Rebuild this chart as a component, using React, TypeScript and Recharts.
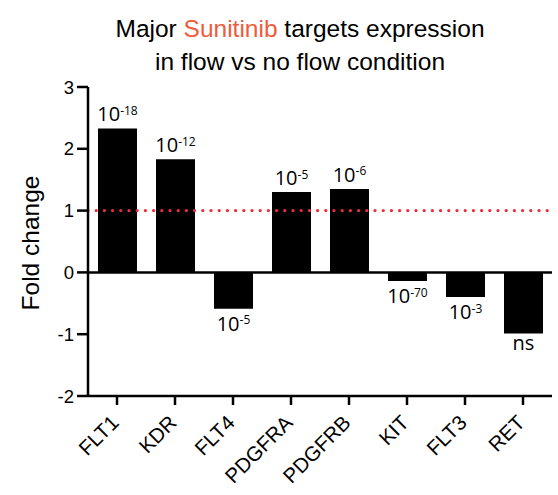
import { BarChart, Bar, XAxis, YAxis, ReferenceLine, LabelList } from "recharts";

const genes = ["FLT1", "KDR", "FLT4", "PDGFRA", "PDGFRB", "KIT", "FLT3", "RET"];
const foldChange = [2.33, 1.83, -0.59, 1.3, 1.35, -0.14, -0.4, -0.99];
// exponent of the p-value (10^x), "ns" = not significant
const pValues = ["-18", "-12", "-5", "-5", "-6", "-70", "-3", "ns"];
const yTicks = [-2, -1, 0, 1, 2, 3];

const data = genes.map((gene, i) => ({ gene, fc: foldChange[i], p: pValues[i] }));

const axisFont = "'Liberation Sans', Arial, sans-serif";
const labelFont = "'Open Sans', 'Liberation Sans', sans-serif";

function PLabel(props: any) {
  const { x, y, width, height, index } = props;
  const v = foldChange[index];
  const p = pValues[index];
  const cx = x + width / 2;
  const top = Math.min(y, y + height);
  const bottom = Math.max(y, y + height);
  let by = v >= 0 ? top - 7 : bottom + 22;
  if (p === "ns") by = v >= 0 ? top - 7 : bottom + 16;
  return (
    <text x={cx} y={by} textAnchor="middle" fontFamily={labelFont} fontSize={20} fill="#000">
      {p === "ns" ? (
        "ns"
      ) : (
        <>
          <tspan>10</tspan>
          <tspan dy={-6.5} fontSize={12}>{p}</tspan>
        </>
      )}
    </text>
  );
}

function GeneTick(props: any) {
  const { x, y, payload } = props;
  const tx = x + 3;
  const ty = y + 17;
  return (
    <text
      x={tx}
      y={ty}
      transform={`rotate(-45 ${tx} ${ty})`}
      textAnchor="end"
      fontFamily={axisFont}
      fontSize={20.5}
      fill="#000"
    >
      {payload.value}
    </text>
  );
}

function FoldLabel(props: any) {
  const { viewBox } = props;
  const cx = viewBox.x + 30;
  const cy = viewBox.y + viewBox.height / 2 + 1.5;
  return (
    <text
      x={cx}
      y={cy}
      transform={`rotate(-90 ${cx} ${cy})`}
      textAnchor="middle"
      dominantBaseline="central"
      fontFamily={axisFont}
      fontSize={24.5}
      fill="#000"
    >
      Fold change
    </text>
  );
}

export default function App() {
  return (
    <div style={{ position: "absolute", left: 0, top: 0, width: 558, height: 495, background: "#fff" }}>
      <div
        style={{
          position: "absolute",
          left: 0,
          top: 12,
          width: 600,
          textAlign: "center",
          fontFamily: axisFont,
          fontSize: 24.5,
          lineHeight: "33px",
          color: "#000",
        }}
      >
        Major <span style={{ color: "#f15a3a" }}>Sunitinib</span> targets expression
        <br />
        in flow vs no flow condition
      </div>
      <BarChart
        width={558}
        height={495}
        data={data}
        margin={{ top: 87, right: 6, bottom: 0, left: 0 }}
        barCategoryGap="33%"
      >
        <XAxis
          dataKey="gene"
          height={99}
          stroke="#000"
          strokeWidth={2.5}
          tickSize={9}
          tick={<GeneTick />}
          interval={0}
        />
        <YAxis
          width={88}
          domain={[-2, 3]}
          ticks={yTicks}
          stroke="#000"
          strokeWidth={2.5}
          tickSize={11}
          tickMargin={3}
          tick={{ fill: "#000", fontSize: 18.5, fontFamily: axisFont }}
          label={<FoldLabel />}
        />
        <ReferenceLine
          y={1}
          stroke="#ec2d3b"
          strokeWidth={3.3}
          strokeDasharray="0 8.2"
          strokeLinecap="round"
        />
        <Bar dataKey="fc" fill="#000" barSize={39} isAnimationActive={false}>
          <LabelList dataKey="p" content={<PLabel />} />
        </Bar>
        <ReferenceLine y={0} stroke="#000" strokeWidth={2.5} />
      </BarChart>
    </div>
  );
}
